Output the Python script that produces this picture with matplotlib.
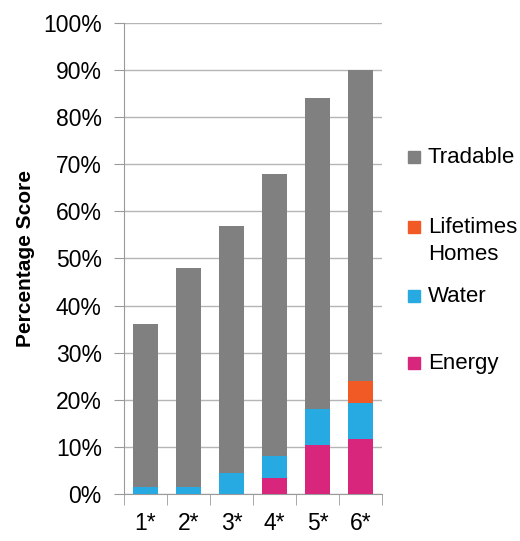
import matplotlib
matplotlib.use("Agg")
import matplotlib.pyplot as plt
import numpy as np
from matplotlib.patches import Rectangle

plt.rcParams['font.family'] = ['Liberation Sans', 'DejaVu Sans']

categories = ["1*", "2*", "3*", "4*", "5*", "6*"]
energy = [0.0, 0.0, 0.0, 3.5, 10.5, 11.7]
water = [1.5, 1.5, 4.4, 4.6, 7.5, 7.6]
lifetimes_homes = [0.0, 0.0, 0.0, 0.0, 0.0, 4.6]
totals = [36.0, 48.0, 57.0, 68.0, 84.0, 90.0]
tradable = [t - e - w - l for t, e, w, l in zip(totals, energy, water, lifetimes_homes)]

series = [
    ("Energy", energy, "#d7267b"),
    ("Water", water, "#27aae1"),
    ("Lifetimes\nHomes", lifetimes_homes, "#f15a24"),
    ("Tradable", tradable, "#808080"),
]

fig = plt.figure(figsize=(5.2, 5.41), dpi=100)
ax = fig.add_axes([0.2385, 0.0869, 0.4961, 0.8706])

x = np.arange(len(categories))
bottom = np.zeros(len(categories))
for name, vals, col in series:
    ax.bar(x, vals, 0.6, bottom=bottom, color=col, zorder=3)
    bottom += np.array(vals)

ax.set_xlim(-0.5, len(categories) - 0.5)
ax.set_ylim(0, 100)
ax.set_yticks(np.arange(0, 101, 10))
ax.set_yticklabels([f"{v}%" for v in range(0, 101, 10)], fontsize=16.5)
ax.yaxis.grid(True, color="#b5b5b5", linewidth=1.0, zorder=0)
ax.tick_params(axis="y", length=7, color="#9a9a9a", pad=9)

ax.set_xticks(x)
ax.set_xticklabels(categories, fontsize=16.5)
ax.set_xticks(np.arange(-0.5, len(categories)), minor=True)
ax.tick_params(axis="x", which="major", length=0, pad=13)
ax.tick_params(axis="x", which="minor", length=8, color="#9a9a9a")

for s in ["top", "right"]:
    ax.spines[s].set_visible(False)
for s in ["left", "bottom"]:
    ax.spines[s].set_color("#9a9a9a")

ax.set_ylabel("Percentage Score", fontsize=15, fontweight="bold", labelpad=6)

# legend entries, top to bottom
legend_items = [
    ("Tradable", "#808080", 157),
    ("Lifetimes\nHomes", "#f15a24", 227),
    ("Water", "#27aae1", 296),
    ("Energy", "#d7267b", 363),
]
W, H = 520.0, 541.0
for label, col, ypix in legend_items:
    sq = 12
    fig.patches.append(Rectangle((408 / W, 1 - (ypix + sq / 2) / H), sq / W, sq / H,
                                 transform=fig.transFigure, color=col, figure=fig))
    fig.text(428 / W, 1 - (ypix - 10) / H, label, fontsize=16, va="top", ha="left",
             linespacing=1.4)

fig.savefig("out.png", dpi=100)
